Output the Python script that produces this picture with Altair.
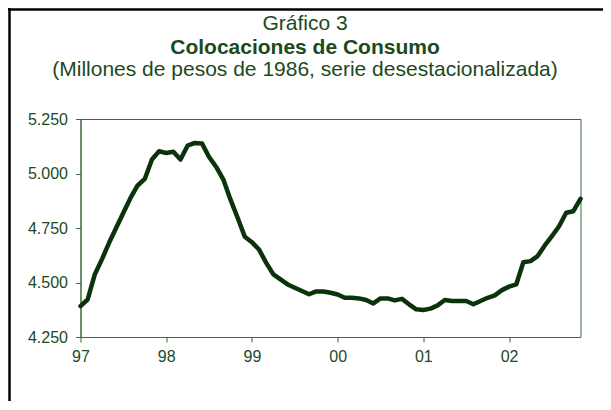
import altair as alt
import pandas as pd

# Colocaciones de consumo, millones de pesos de 1986 (serie desestacionalizada), mensual ene-1997 .. nov-2002
valores = [
    4392, 4422, 4537, 4606, 4682, 4751, 4820, 4888, 4945, 4975, 5064, 5102,
    5094, 5100, 5064, 5128, 5140, 5138, 5076, 5030, 4972, 4880, 4797, 4710,
    4685, 4651, 4590, 4537, 4514, 4491, 4476, 4461, 4446, 4459, 4459, 4453,
    4445, 4430, 4430, 4427, 4420, 4404, 4427, 4427, 4418, 4425, 4400, 4377,
    4374, 4380, 4395, 4420, 4415, 4415, 4415, 4400, 4415, 4430, 4441, 4465,
    4481, 4491, 4593, 4598, 4621, 4670, 4713, 4758, 4820, 4827, 4884,
]
anio_inicio = 1997
anios_ticks = [1997, 1998, 1999, 2000, 2001, 2002]
y_ticks = [4250, 4500, 4750, 5000, 5250]
titulo1 = "Gráfico 3"
titulo2 = "Colocaciones de Consumo"
titulo3 = "(Millones de pesos de 1986, serie desestacionalizada)"

t = [anio_inicio + i / 12 for i in range(len(valores))]
df = pd.DataFrame({"t": t, "v": valores})

TEXTO = "#1c4a1c"
LINEA = "#0b330b"
EJE = "#3b6b3b"
FONT = "Liberation Sans"

W, H = 500, 218
PL, PT = 72.5, 111

linea = alt.Chart(df).mark_line(
    color=LINEA, strokeWidth=4.5, strokeJoin="round", strokeCap="round"
).encode(
    x=alt.X(
        "t:Q",
        scale=alt.Scale(domain=[anio_inicio, t[-1]], nice=False, zero=False),
        axis=alt.Axis(
            values=anios_ticks,
            labelExpr="substring(toString(datum.value), 2)",
            title=None, grid=False, tickSize=5, labelPadding=6,
            labelFlush=False, labelOverlap=False,
        ),
    ),
    y=alt.Y(
        "v:Q",
        scale=alt.Scale(domain=[4250, 5250], nice=False, zero=False),
        axis=alt.Axis(
            values=y_ticks,
            labelExpr="replace(format(datum.value, ','), ',', '.')",
            title=None, grid=False, tickSize=5, labelPadding=8,
            labelFlush=False, labelOverlap=False,
        ),
    ),
)

def texto(s, y, bold=False):
    return alt.Chart(pd.DataFrame({"s": [s]})).mark_text(
        font=FONT, fontSize=21, color=TEXTO, align="center",
        baseline="alphabetic", fontWeight="bold" if bold else "normal",
    ).encode(x=alt.value(224.5), y=alt.value(y), text="s:N")

t1 = texto(titulo1, -89)
t2 = texto(titulo2, -65, bold=True)
t3 = texto(titulo3, -43)

marco = pd.DataFrame({"k": [0]})
marco_izq = alt.Chart(marco).mark_rule(color="black", strokeWidth=2.5).encode(
    x=alt.value(-PL + 1.5), y=alt.value(-PT), y2=alt.value(H + 70)
)
marco_sup = alt.Chart(marco).mark_rule(color="black", strokeWidth=2.5).encode(
    x=alt.value(-PL), x2=alt.value(W + 30), y=alt.value(-PT + 1.5)
)

chart = alt.layer(linea, t1, t2, t3, marco_izq, marco_sup).properties(
    width=W, height=H,
    autosize=alt.AutoSizeParams(type="none"),
    padding={"left": PL, "top": PT, "right": 22, "bottom": 64},
    background="white",
).configure_view(
    stroke=EJE, strokeWidth=1
).configure_axis(
    domainColor=EJE, tickColor=EJE, labelColor=TEXTO,
    labelFont=FONT, labelFontSize=16, domainWidth=1, tickWidth=1,
)

chart.save("out.html", embed_options={"renderer": "svg", "actions": False})
